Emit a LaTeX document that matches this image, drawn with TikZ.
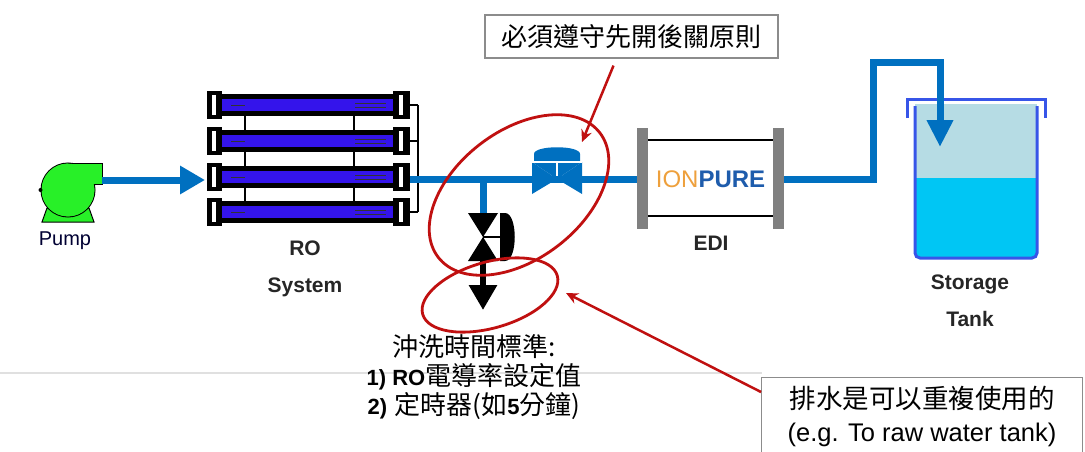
\documentclass[tikz,border=0pt]{standalone}
\usepackage{fontspec}
\setmainfont{Liberation Sans}
\newfontfamily\cjk{Noto Sans CJK TC}
\usetikzlibrary{arrows.meta,positioning}

\definecolor{pipeblue}{RGB}{0,112,192}
\definecolor{roblue}{RGB}{52,20,235}
\definecolor{pumpgreen}{RGB}{40,240,40}
\definecolor{notered}{RGB}{192,16,16}
\definecolor{ionorange}{RGB}{238,160,60}
\definecolor{ionblue}{RGB}{30,92,172}
\definecolor{plategrey}{RGB}{128,128,128}
\definecolor{tankline}{RGB}{55,85,232}
\definecolor{tanktop}{RGB}{182,220,228}
\definecolor{tankwater}{RGB}{0,198,244}

\tikzset{
  pipe/.style={draw=pipeblue,line width=7pt},
  flow/.style={pipe,-{Triangle[length=25pt,width=27pt]}},
  drainflow/.style={draw=black,line width=6pt,-{Triangle[length=25pt,width=27pt]}},
  partname/.style={font=\fontsize{21}{37}\selectfont\bfseries,text=black!85,align=center,inner sep=0pt},
  note/.style={draw=notered,line width=2.8pt},
  notearrow/.style={draw=notered,line width=2.5pt,-{Stealth[length=12pt,width=11pt]}},
  notebox/.style={draw=black!45,line width=1.2pt,fill=white,inner sep=0pt},
  frame/.style={inner sep=0pt}
}

\begin{document}
\begin{tikzpicture}[x=1pt,y=-1pt]
  \fill[white] (0,0) rectangle (1085,452);
  \useasboundingbox (0,0) rectangle (1085,452);

  \draw[black!12,line width=1.5pt] (0,373) -- (762,373);

  % pump
  \node[frame,minimum width=64,minimum height=60] (pump) at (70,193) {};
  \filldraw[fill=pumpgreen,draw=black,line width=1pt]
    (47,208) -- (89,208) -- (94,222) -- (42,222) -- cycle;
  \filldraw[fill=pumpgreen,draw=black,line width=1pt] (68,190) circle (27);
  \filldraw[fill=pumpgreen,draw=black,line width=1pt] (68,163) rectangle (102,184);
  \fill[pumpgreen] (68,190) circle (26.4);
  \fill[black] (40.5,190) circle (2);
  \node[font=\fontsize{20}{20}\selectfont,text=black!80!blue,inner sep=0pt] (pumpname) at (65,241) {Pump};

  % RO system
  \node[frame,minimum width=211,minimum height=136] (ro) at (312.5,158.5) {};
  \draw[line width=1.2pt] (245,105) -- (245,212) (354,105) -- (354,212) (418,105) -- (418,212);
  \foreach \y in {105,141,177,212}{
    \fill[black] (214,\y-11) rectangle (402,\y+11);
    \fill[roblue] (222,\y-6) rectangle (393,\y+6);
    \fill[black] (207,\y-14) rectangle (222,\y+14);
    \fill[black] (393,\y-14) rectangle (410,\y+14);
    \fill[white] (212,\y-10) rectangle (216,\y+10);
    \fill[white] (399,\y-10) rectangle (403,\y+10);
    \draw[black!80,line width=0.8pt] (231,\y) -- (245,\y);
    \draw[black!80,line width=0.8pt] (355,\y-2) -- (386,\y-2) (355,\y+2) -- (386,\y+2);
    \draw[line width=1.2pt] (410,\y) -- (418,\y);
  }
  \node[partname] (roname) at (305,269) {RO\\System};

  \coordinate (pumpout) at (102,180);
  \coordinate (roin) at (205,180);
  \coordinate (roout) at (410,179);
  \coordinate (tee) at (483,179);
  \coordinate (drain) at (483,237);
  \coordinate (drainout) at (483,310);
  \coordinate (mainvalve) at (557,179);
  \coordinate (tankin) at (940,147);

  % EDI
  \node[frame,minimum width=147,minimum height=101] (edi) at (710.5,179) {};
  \fill[plategrey] (637,128) rectangle (648,229);
  \fill[plategrey] (773,128) rectangle (784,229);
  \draw[line width=2.5pt] (648,140) -- (773,140) (648,216) -- (773,216);

  % pipework
  \draw[flow] (pumpout) -- (roin);
  \draw[pipe] (roout) -- (edi.west);
  \draw[pipe] (tee) -- ([yshift=24pt]drain);
  \draw[drainflow] ([yshift=-23pt]drain) -- (drainout);

  \node[font=\fontsize{24}{24}\selectfont,inner sep=0pt] (ionpure) at (edi) {\textcolor{ionorange}{ION}\textcolor{ionblue}{\bfseries PURE}};
  \node[partname] (ediname) at (711,243) {EDI};

  % main valve
  \begin{scope}[shift={(mainvalve)}]
    \fill[pipeblue] (-25,-17) -- (-25,15) -- (0,0) -- cycle;
    \fill[pipeblue] (25,-17) -- (25,15) -- (0,0) -- cycle;
    \fill[pipeblue] (-25,-17) -- (25,-17) -- (0,0) -- cycle;
    \fill[pipeblue] (-23,-18) -- (-23,-25) .. controls (-23,-34) and (23,-34) .. (23,-25) -- (23,-18) -- cycle;
    \draw[white,line width=2.2pt] (-25,-17) -- (25,-17);
    \draw[white,line width=1.8pt] (0,-17) -- (0,-3);
  \end{scope}

  % drain valve
  \begin{scope}[shift={(drain)}]
    \fill[black] (-15,-24) -- (15,-24) -- (0,0) -- cycle;
    \fill[black] (-15,24) -- (15,24) -- (0,0) -- cycle;
    \fill[black] (17,-24) -- (22,-24) .. controls (35,-24) and (35,24) .. (22,24) -- (17,24) -- cycle;
    \draw[line width=1.5pt] (0,0) -- (17,0);
  \end{scope}

  % storage tank
  \node[frame,minimum width=138,minimum height=158] (tank) at (976,179) {};
  \fill[tanktop] (915,104) rectangle (1037,178);
  \fill[tankwater] (915,178) rectangle (1037,257);
  \draw[tankline,line width=3pt,rounded corners=5pt] (915,106) -- (915,258) -- (1037,258) -- (1037,106);
  \draw[tankline,line width=3pt] (907,118) -- (907,100) -- (1045,100) -- (1045,118);
  \draw[flow,-{Triangle[length=27pt,width=25pt]}] (edi.east) -- (873,179) |- (940,63) -- (tankin);
  \node[partname] (tankname) at (970,301) {Storage\\Tank};

  % notes
  \draw[note] (519,195) [rotate around={37.6:(519,195)}] ellipse (102 and 64);
  \draw[note] (490,295) [rotate around={16:(490,295)}] ellipse (70 and 33);

  \node[notebox,minimum width=293,minimum height=43,font=\cjk\fontsize{26}{26}\selectfont] (rulebox) at (631.5,36.5) {必須遵守先開後關原則};
  \coordinate (ruletip) at (582,142);
  \draw[notearrow] ([xshift=-18pt,yshift=-7pt]rulebox.south) -- (ruletip);

  \node[align=center,font=\fontsize{26}{29}\selectfont,inner sep=0pt] (flushnote) at (474,377)
    {{\cjk 沖洗時間標準:}\\
     {\fontsize{22}{29}\selectfont\bfseries 1) RO}{\cjk 電導率設定值}\\
     {\fontsize{22}{29}\selectfont\bfseries 2)} {\cjk 定時器(如}{\fontsize{22}{29}\selectfont\bfseries 5}{\cjk 分鐘)}};

  \coordinate (drainnote) at (566,293);
  \node[notebox,minimum width=321,minimum height=83,anchor=north west] (reusebox) at (761,377) {};
  \draw[notearrow] ([yshift=-15pt]reusebox.north west) -- (drainnote);
  \node[align=center,font=\fontsize{25.5}{33}\selectfont,inner sep=0pt] (reusetext) at (922,416)
    {{\cjk\fontsize{26.5}{33}\selectfont 排水是可以重複使用的}\\(e.g. To raw water tank)};
\end{tikzpicture}
\end{document}
